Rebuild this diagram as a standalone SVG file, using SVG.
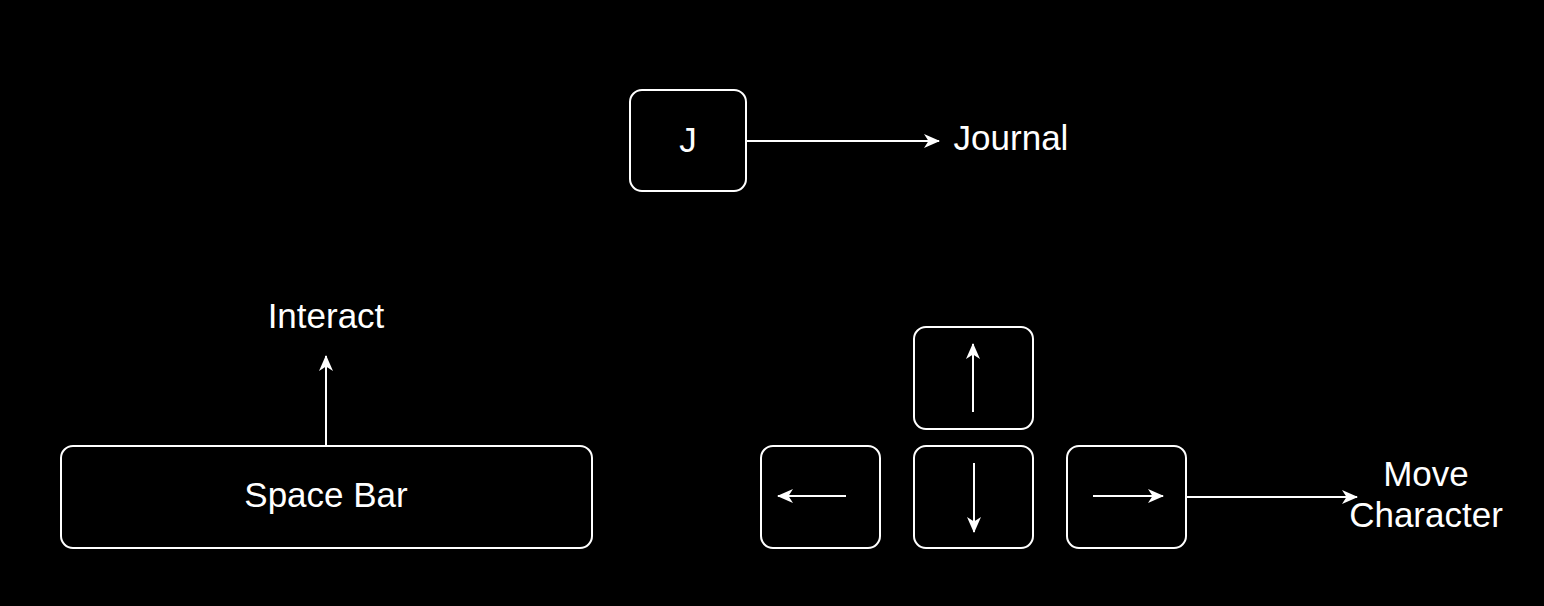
<svg xmlns="http://www.w3.org/2000/svg" width="1544" height="606" viewBox="0 0 1544 606">
<defs>
<style>
.key{fill:#000;stroke:#fff;stroke-width:2}
.lbl{fill:#fff;font-family:"Liberation Sans",Arial,sans-serif;font-size:35px;text-anchor:middle;dominant-baseline:central}
.edge{stroke:#fff;stroke-width:2;fill:none;marker-end:url(#ah)}
</style>
<marker id="ah" viewBox="0 0 16 14" refX="15" refY="7" markerWidth="16" markerHeight="14" markerUnits="userSpaceOnUse" orient="auto">
<path d="M0,0 L16,7 L0,14 L4.5,7 Z" fill="#fff"/>
</marker>
</defs>
<rect width="1544" height="606" fill="#000"/>
<g id="key-j">
<rect class="key" x="630" y="90" width="116" height="101" rx="12"/>
<text class="lbl" x="688" y="139">J</text>
</g>
<g id="label-journal"><text class="lbl" x="1011" y="137">Journal</text></g>
<g id="key-space">
<rect class="key" x="61" y="446" width="531" height="102" rx="12"/>
<text class="lbl" x="326" y="494">Space Bar</text>
</g>
<g id="label-interact"><text class="lbl" x="326" y="315">Interact</text></g>
<g id="key-up">
<rect class="key" x="914" y="327" width="119" height="102" rx="12"/>
<line class="edge" x1="973" y1="412" x2="973" y2="344"/>
</g>
<g id="key-left">
<rect class="key" x="761" y="446" width="119" height="102" rx="12"/>
<line class="edge" x1="846" y1="496" x2="778" y2="496"/>
</g>
<g id="key-down">
<rect class="key" x="914" y="446" width="119" height="102" rx="12"/>
<line class="edge" x1="974" y1="463" x2="974" y2="532"/>
</g>
<g id="key-right">
<rect class="key" x="1067" y="446" width="119" height="102" rx="12"/>
<line class="edge" x1="1093" y1="496" x2="1163" y2="496"/>
</g>
<g id="label-move"><text class="lbl" x="1426" y="473">Move</text><text class="lbl" x="1426" y="514">Character</text></g>
<g id="connectors">
<line class="edge" x1="746" y1="141" x2="939" y2="141"/>
<line class="edge" x1="326" y1="446" x2="326" y2="356"/>
<line class="edge" x1="1186" y1="497" x2="1357" y2="497"/>
</g>
</svg>
